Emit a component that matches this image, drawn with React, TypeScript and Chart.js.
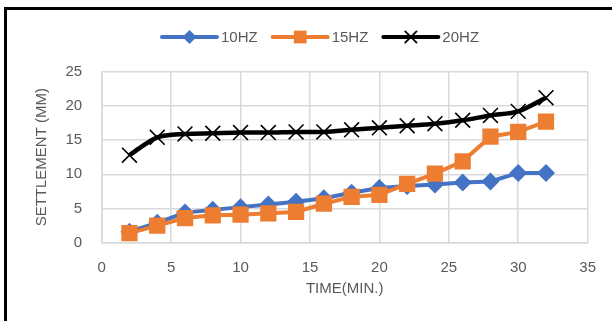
import React, { useEffect, useRef } from "react";
import { Chart, registerables } from "chart.js";

Chart.register(...registerables);

const timeMin = [2, 4, 6, 8, 10, 12, 14, 16, 18, 20, 22, 24, 26, 28, 30, 32];
const hz10 = [1.6, 2.9, 4.4, 4.8, 5.2, 5.6, 6.0, 6.5, 7.3, 8.0, 8.3, 8.5, 8.8, 8.95, 10.2, 10.2];
const hz15 = [1.4, 2.5, 3.6, 4.0, 4.1, 4.3, 4.5, 5.7, 6.7, 7.0, 8.6, 10.1, 11.9, 15.5, 16.2, 17.7];
const hz20 = [12.8, 15.4, 15.9, 16.0, 16.1, 16.1, 16.2, 16.2, 16.5, 16.8, 17.1, 17.4, 17.9, 18.6, 19.2, 21.2];
const seriesNames = ["10HZ", "15HZ", "20HZ"];
const xTitle = "TIME(MIN.)";
const yTitle = "SETTLEMENT (MM)";

const FONT = "'Liberation Sans', Arial, sans-serif";
const TEXT = "#595959";
const GRID = "#d9d9d9";
const COLORS = ["#4472C4", "#ED7D31", "#000000"];
const STYLES = ["rectRot", "rect", "crossRot"];

const legendPlugin = {
  id: "customLegend",
  afterDraw(chart: any) {
    const ctx = chart.ctx;
    ctx.save();
    ctx.font = `15px ${FONT}`;
    ctx.textBaseline = "middle";
    const y = 37;
    let x = 162;
    const lineLen = 55;
    const radii = [7, 9, 8];
    seriesNames.forEach((name, i) => {
      ctx.strokeStyle = COLORS[i];
      ctx.lineWidth = 4;
      ctx.lineCap = "round";
      ctx.beginPath();
      ctx.moveTo(x, y);
      ctx.lineTo(x + lineLen, y);
      ctx.stroke();
      ctx.fillStyle = COLORS[i];
      ctx.strokeStyle = COLORS[i];
      ctx.lineWidth = i === 2 ? 1.8 : 1;
      (Chart as any).helpers?.drawPoint;
      drawMarker(ctx, STYLES[i], radii[i], x + lineLen / 2, y);
      ctx.fillStyle = TEXT;
      ctx.fillText(name, x + lineLen + 4, y + 1);
      const w = ctx.measureText(name).width;
      x += lineLen + 4 + w + 15;
    });
    ctx.restore();
  },
};

function drawMarker(ctx: CanvasRenderingContext2D, style: string, r: number, x: number, y: number) {
  ctx.beginPath();
  if (style === "rectRot") {
    ctx.moveTo(x, y - r);
    ctx.lineTo(x + r, y);
    ctx.lineTo(x, y + r);
    ctx.lineTo(x - r, y);
    ctx.closePath();
    ctx.fill();
  } else if (style === "rect") {
    const s = r * Math.SQRT1_2;
    ctx.rect(x - s, y - s, 2 * s, 2 * s);
    ctx.fill();
  } else {
    const o = r * Math.SQRT1_2;
    ctx.moveTo(x - o, y - o);
    ctx.lineTo(x + o, y + o);
    ctx.moveTo(x + o, y - o);
    ctx.lineTo(x - o, y + o);
    ctx.stroke();
  }
}

export default function App() {
  const ref = useRef<HTMLCanvasElement | null>(null);

  useEffect(() => {
    if (!ref.current) return;
    const toPts = (arr: number[]) => arr.map((v, i) => ({ x: timeMin[i], y: v }));
    const chart = new Chart(ref.current, {
      type: "line",
      data: {
        datasets: [
          {
            label: seriesNames[0],
            data: toPts(hz10),
            borderColor: COLORS[0],
            backgroundColor: COLORS[0],
            borderWidth: 4,
            pointStyle: "rectRot",
            pointRadius: 9,
            pointBorderWidth: 0,
            tension: 0,
            order: 2,
          },
          {
            label: seriesNames[1],
            data: toPts(hz15),
            borderColor: COLORS[1],
            backgroundColor: COLORS[1],
            borderWidth: 4,
            pointStyle: "rect",
            pointRadius: 11.5,
            pointBorderWidth: 0,
            tension: 0,
            order: 1,
          },
          {
            label: seriesNames[2],
            data: toPts(hz20),
            borderColor: COLORS[2],
            backgroundColor: COLORS[2],
            borderWidth: 4.5,
            pointStyle: "crossRot",
            pointRadius: 10.5,
            pointBorderWidth: 1.6,
            pointBorderColor: "#000",
            tension: 0.3,
            order: 0,
          },
        ],
      },
      options: {
        responsive: false,
        animation: false,
        devicePixelRatio: 1,
        layout: { padding: { left: 0, right: 20.3, top: 71.7, bottom: 0 } },
        plugins: { legend: { display: false }, tooltip: { enabled: false } },
        scales: {
          x: {
            type: "linear",
            min: 0,
            max: 35,
            ticks: { stepSize: 5, color: TEXT, font: { family: FONT, size: 15 }, padding: 16, maxRotation: 0 },
            grid: { color: GRID, lineWidth: 1.5, drawTicks: false },
            border: { color: GRID, width: 1.5 },
            title: { display: true, text: xTitle, color: TEXT, font: { family: FONT, size: 15 }, padding: { top: 0, bottom: 23 } },
            afterFit(scale: any) {
              scale.height = 78.3;
            },
          },
          y: {
            min: 0,
            max: 25,
            ticks: { stepSize: 5, color: TEXT, font: { family: FONT, size: 15 }, padding: 19.5 },
            grid: { color: GRID, lineWidth: 1.5, drawTicks: false },
            border: { color: GRID, width: 1.5 },
            title: { display: true, text: yTitle, color: TEXT, font: { family: FONT, size: 15 }, padding: { top: 32.5, bottom: 0 } },
            afterFit(scale: any) {
              scale.width = 101.7;
            },
          },
        },
      },
      plugins: [legendPlugin],
    });
    return () => chart.destroy();
  }, []);

  return (
    <div style={{ position: "absolute", left: 0, top: 0, width: 612, height: 321, background: "#fff", overflow: "hidden" }}>
      <canvas ref={ref} width={612} height={321} style={{ display: "block", width: 612, height: 321 }} />
      <div style={{ position: "absolute", left: 4, top: 7, right: 0, height: 2.5, background: "#000" }} />
      <div style={{ position: "absolute", left: 4, top: 7, bottom: 0, width: 2.5, background: "#000" }} />
    </div>
  );
}
